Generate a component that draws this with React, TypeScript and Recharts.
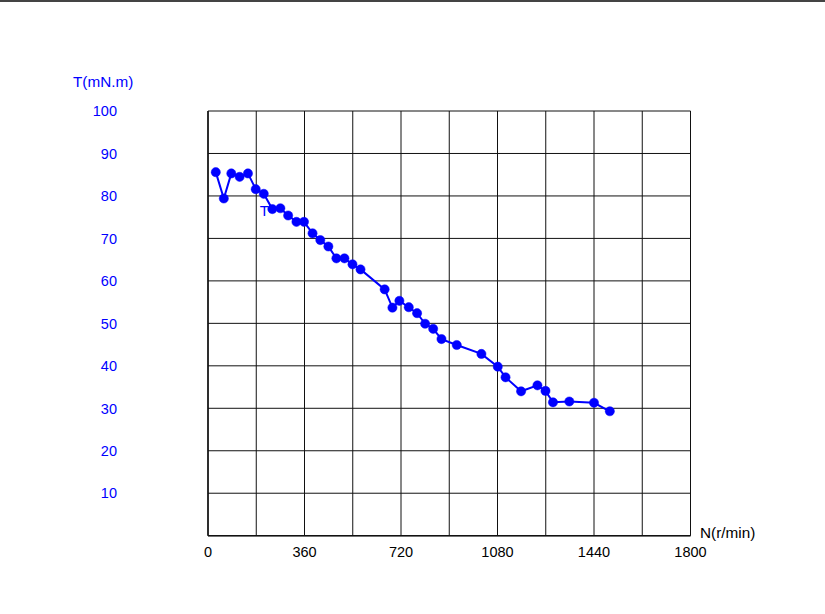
import { CartesianGrid, LabelList, Line, LineChart, XAxis, YAxis } from "recharts";

const speed = [
  29, 59, 87, 118, 149, 178, 208, 240, 270, 299, 330, 358, 390, 419, 449, 479, 509, 539, 569,
  659, 688, 714, 749, 780, 810, 840, 871, 928, 1020, 1081, 1110, 1168, 1229, 1259, 1287, 1348,
  1440, 1499,
];
const torque = [
  85.6, 79.4, 85.3, 84.5, 85.3, 81.6, 80.5, 76.9, 77.1, 75.4, 73.9, 73.9, 71.2, 69.6, 68.1, 65.3,
  65.3, 63.9, 62.7, 58.0, 53.7, 55.3, 53.8, 52.4, 49.9, 48.7, 46.3, 44.9, 42.8, 39.8, 37.3, 34.0,
  35.4, 34.1, 31.4, 31.6, 31.3, 29.3,
];
const xTicks = [0, 180, 360, 540, 720, 900, 1080, 1260, 1440, 1620, 1800];
const yTicks = [0, 10, 20, 30, 40, 50, 60, 70, 80, 90, 100];
const seriesName = "T";
const labelIndex = 6;

const data = speed.map((n, i) => ({ n, t: torque[i] }));

const BLUE = "#0000ff";
const FONT = "'Liberation Sans', Arial, sans-serif";

function YTick({ y, payload }: any) {
  if (payload.value === 0) return null;
  return (
    <text x={117} y={y} dy="0.36em" textAnchor="end" fill={BLUE} fontSize={14.5} fontFamily={FONT}>
      {payload.value}
    </text>
  );
}

function XTick({ x, payload }: any) {
  if (payload.value % 360 !== 0) return null;
  return (
    <text x={x} y={557} textAnchor="middle" fill="#000" fontSize={14.5} fontFamily={FONT}>
      {payload.value}
    </text>
  );
}

function SeriesLabel({ x, y, index }: any) {
  if (index !== labelIndex) return null;
  return (
    <text x={x - 4} y={y + 22.5} fill={BLUE} fontSize={15} fontFamily={FONT}>
      {seriesName}
    </text>
  );
}

export default function App() {
  return (
    <div style={{ position: "absolute", left: 0, top: 0, width: 825, height: 614, background: "#fff" }}>
      <div style={{ position: "absolute", left: 0, top: 0, width: 825, height: 2, background: "#444" }} />
      <LineChart width={825} height={614} data={data} margin={{ top: 111, right: 134.5, left: 168, bottom: 0 }}>
        <CartesianGrid stroke="#111" strokeWidth={1} strokeDasharray="" />
        <XAxis
          dataKey="n"
          type="number"
          domain={[0, 1800]}
          ticks={xTicks}
          tick={<XTick />}
          tickLine={false}
          axisLine={{ stroke: "#111", strokeWidth: 1.5 }}
          height={78.3}
          interval={0}
        />
        <YAxis
          type="number"
          domain={[0, 100]}
          ticks={yTicks}
          tick={<YTick />}
          tickLine={false}
          axisLine={{ stroke: "#111", strokeWidth: 1.5 }}
          width={40}
          interval={0}
        />
        <Line
          dataKey="t"
          stroke={BLUE}
          strokeWidth={2}
          dot={{ r: 4.6, fill: BLUE, stroke: BLUE, strokeWidth: 0.5 }}
          isAnimationActive={false}
        >
          <LabelList dataKey="t" content={<SeriesLabel />} />
        </Line>
      </LineChart>
      <div style={{ position: "absolute", left: 73, top: 73, fontFamily: FONT, fontSize: 15.3, color: BLUE }}>
        T(mN.m)
      </div>
      <div style={{ position: "absolute", left: 700, top: 524, fontFamily: FONT, fontSize: 15.3, color: "#000" }}>
        N(r/min)
      </div>
    </div>
  );
}
